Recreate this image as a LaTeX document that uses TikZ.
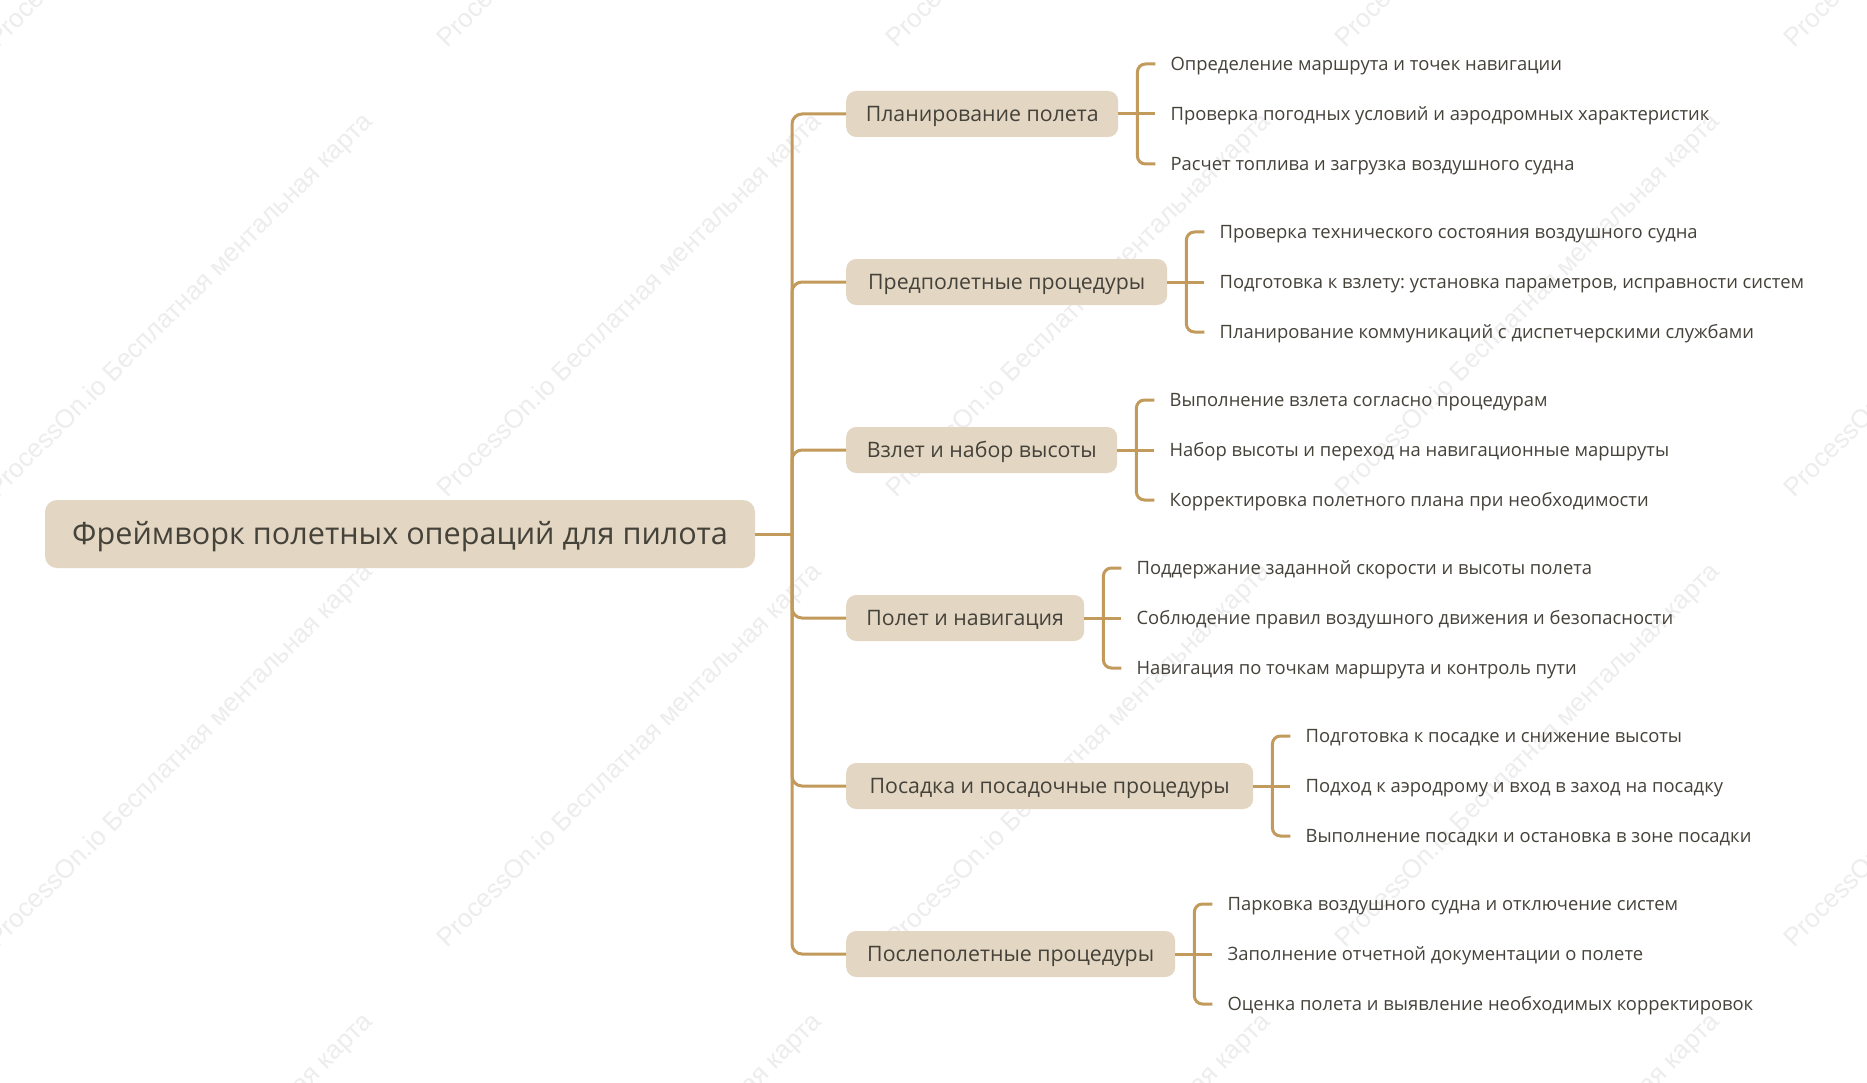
\documentclass[tikz,border=0pt]{standalone}
\usepackage{fontspec}
\setmainfont{Open Sans}
\newfontfamily\wmfont{Liberation Sans}
\definecolor{boxfill}{HTML}{E3D7C4}
\definecolor{linec}{HTML}{C29B5C}
\definecolor{txt}{HTML}{45423A}
\definecolor{wm}{HTML}{EDEDED}
\frenchspacing
\begin{document}
\begin{tikzpicture}[x=1pt,y=-1pt,
  conn/.style={draw=linec,line width=3pt},
  rootbox/.style={fill=boxfill,rounded corners=12pt,minimum height=68pt,inner sep=0pt,text=txt,font=\fontsize{30.6}{36}\selectfont,text height=21.8pt,text depth=0pt},
  topic/.style={fill=boxfill,rounded corners=10pt,minimum height=46pt,inner sep=0pt,text=txt,font=\fontsize{21.3}{26}\selectfont,anchor=west,text height=15.2pt,text depth=0pt},
  leaf/.style={anchor=west,inner xsep=15pt,inner ysep=0pt,text=txt,font=\fontsize{18.4}{23}\selectfont,text height=13.1pt,text depth=0pt},
  wmtext/.style={text=wm,font=\wmfont\fontsize{26}{30}\selectfont,rotate=45}]
\useasboundingbox[fill=white] (0,0) rectangle (1867,1083);
\begin{scope}
\clip (0,0) rectangle (1867,1083);
\foreach \i in {0,...,4}{
  \foreach \j in {0,...,3}{
    \node[wmtext] (wm-\i-\j) at ({181+449*\i},{-144+450*\j}) {ProcessOn.io Бесплатная ментальная карта};
  }
}
\end{scope}
% root
\node[rootbox,minimum width=710pt] (root) at (400,534) {Фреймворк полетных операций для пилота};
\coordinate (tr) at (792,534);
\draw[conn] (root.east) -- (tr);
% topics
\node[topic,minimum width=272pt] (t1) at (846,114) {Планирование полета};
\node[topic,minimum width=321pt] (t2) at (846,282) {Предполетные процедуры};
\node[topic,minimum width=271pt] (t3) at (846,450) {Взлет и набор высоты};
\node[topic,minimum width=238pt] (t4) at (846,618) {Полет и навигация};
\node[topic,minimum width=407pt] (t5) at (846,786) {Посадка и посадочные процедуры};
\node[topic,minimum width=329pt] (t6) at (846,954) {Послеполетные процедуры};
\foreach \t in {t1,t2,t3,t4,t5,t6}{
  \draw[conn,rounded corners=10pt] (tr) |- (\t.west);
}
% brackets and leaves
\foreach \t/\a/\b/\c in {
 t1/{Определение маршрута и точек навигации}/{Проверка погодных условий и аэродромных характеристик}/{Расчет топлива и загрузка воздушного судна},
 t2/{Проверка технического состояния воздушного судна}/{Подготовка к взлету: установка параметров, исправности систем}/{Планирование коммуникаций с диспетчерскими службами},
 t3/{Выполнение взлета согласно процедурам}/{Набор высоты и переход на навигационные маршруты}/{Корректировка полетного плана при необходимости},
 t4/{Поддержание заданной скорости и высоты полета}/{Соблюдение правил воздушного движения и безопасности}/{Навигация по точкам маршрута и контроль пути},
 t5/{Подготовка к посадке и снижение высоты}/{Подход к аэродрому и вход в заход на посадку}/{Выполнение посадки и остановка в зоне посадки},
 t6/{Парковка воздушного судна и отключение систем}/{Заполнение отчетной документации о полете}/{Оценка полета и выявление необходимых корректировок}}{
  \coordinate (\t-bk) at ([xshift=19pt]\t.east);
  \node[leaf] (\t-a) at ([xshift=37pt,yshift=50pt]\t.east) {\a};
  \node[leaf] (\t-b) at ([xshift=37pt]\t.east) {\b};
  \node[leaf] (\t-c) at ([xshift=37pt,yshift=-50pt]\t.east) {\c};
  \draw[conn] (\t.east) -- (\t-b.west);
  \draw[conn,rounded corners=8pt] (\t-bk) |- (\t-a.west);
  \draw[conn,rounded corners=8pt] (\t-bk) |- (\t-c.west);
}
\end{tikzpicture}
\end{document}
